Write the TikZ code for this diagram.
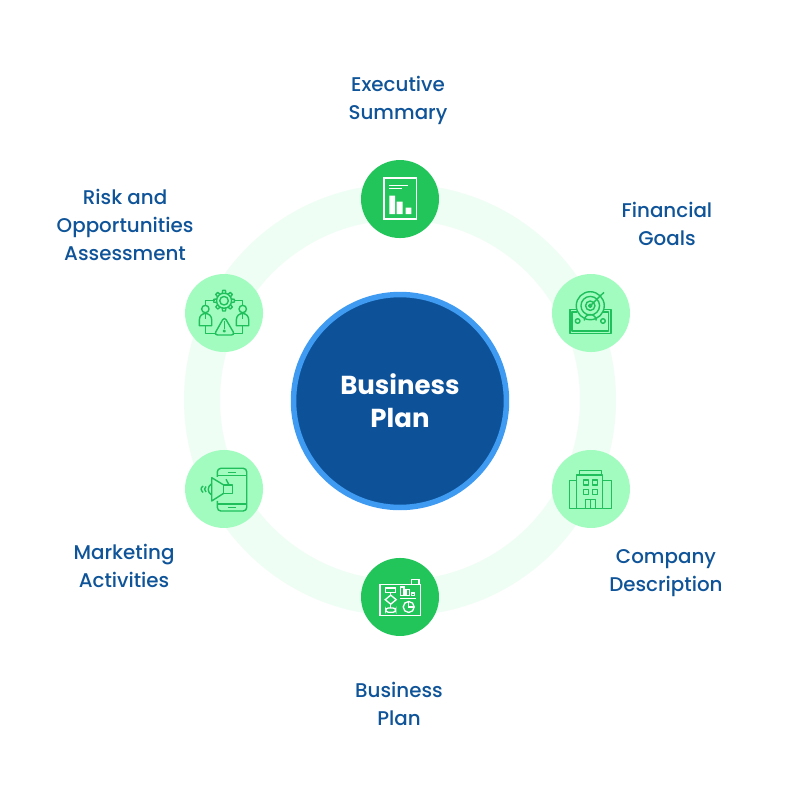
\documentclass[tikz,border=0pt]{standalone}
\usepackage{fontspec}
\setmainfont{Poppins}
\newfontfamily\labelfont{Poppins Medium}
\usetikzlibrary{positioning}
\definecolor{hubblue}{HTML}{0D5299}
\definecolor{hubedge}{HTML}{3F9BF2}
\definecolor{labelblue}{HTML}{0F5499}
\definecolor{darkgreen}{HTML}{21C55A}
\definecolor{softgreen}{HTML}{A2FCBF}
\definecolor{ringgreen}{HTML}{EFFEF4}
\definecolor{iconline}{HTML}{1FBF5C}

\begin{document}
\begin{tikzpicture}[
        x=0.02cm, y=-0.02cm,
        node distance=3.82cm,
        hubnode/.style={circle, draw=hubedge, line width=0.11cm, fill=hubblue, text=white, minimum size=4.26cm, align=center, inner sep=0pt, font=\fontsize{14.8}{18.7}\selectfont\bfseries},
        darknode/.style={circle, fill=darkgreen, minimum size=1.56cm, inner sep=0pt},
        softnode/.style={circle, fill=softgreen, minimum size=1.56cm, inner sep=0pt},
        caption/.style={align=center, text=labelblue, inner sep=0pt, font=\labelfont\fontsize{11.3}{15.9}\selectfont},
        whiteicon/.style={draw=white, line width=0.75pt},
        greenicon/.style={draw=iconline, line width=0.8pt, line join=round}
    ]

        \useasboundingbox (0,0) rectangle (801,801);
        \fill[white] (0,0) rectangle (801,801);
        \draw[ringgreen, line width=0.72cm] (400,400) circle (198);

        \node [hubnode] (Hub) at (400,401) {Business\\Plan};
        \node [darknode] (Summary) [above of= Hub, yshift=0.22cm] {};
        \node [softnode] (Goals) [right of= Hub, yshift=1.76cm] {};
        \node [softnode] (Company) [right of= Hub, yshift=-1.76cm] {};
        \node [darknode] (Plan) [below of= Hub, yshift=-0.1cm] {};
        \node [softnode] (Marketing) [left of= Hub, xshift=0.3cm, yshift=-1.76cm] {};
        \node [softnode] (Risk) [left of= Hub, xshift=0.3cm, yshift=1.76cm] {};

        \node [caption] (SummaryText) [above=0.7cm of Summary, xshift=-0.04cm] {Executive\\Summary};
        \node [caption] (GoalsText) [above=0.56cm of Goals, xshift=1.52cm] {Financial\\Goals};
        \node [caption] (CompanyText) [below=0.42cm of Company, xshift=1.5cm] {Company\\Description};
        \node [caption] (PlanText) [below=0.92cm of Plan, xshift=-0.02cm] {Business\\Plan};
        \node [caption] (MarketingText) [below=0.32cm of Marketing, xshift=-2cm] {Marketing\\Activities};
        \node [caption] (RiskText) [above=0.26cm of Risk, xshift=-1.98cm] {Risk and\\Opportunities\\Assessment};

        % report
        \begin{scope}[shift={(Summary)}]
            \draw[whiteicon, line width=0.9pt] (-16,-21) rectangle (16.7,20);
            \draw[whiteicon] (-11,-13.3) -- (8.3,-13.3) (-11,-10.3) -- (1.7,-10.3);
            \fill[white] (-10.7,-3.3) rectangle (-5,15) (-3.3,2.7) rectangle (2.7,15) (5.7,8.7) rectangle (11.3,15);
        \end{scope}

        % target on banknote
        \begin{scope}[shift={(Goals)}]
            \draw[greenicon] (-0.7,-7.3) circle (14) (-0.7,-7.3) circle (9.3) (-0.7,-7.3) circle (4.7) (-0.7,-7.3) circle (1.7);
            \draw[greenicon] (-0.7,-7.3) -- (13,-20.7);
            \draw[greenicon] (-14,-3.7) -- (-21,-3.7) -- (-21,20.3) -- (20,20.3) -- (20,-3.7) -- (13,-3.7);
            \draw[greenicon] (-13.5,-1) -- (-18.8,-1) -- (-18.8,18) -- (17.8,18) -- (17.8,-1) -- (12.5,-1);
            \draw[greenicon] (-13.3,8) circle (2.3) (12,8) circle (2.3);
            \draw[greenicon] (-6.7,7.5) arc (180:360:6);
        \end{scope}

        % office building
        \begin{scope}[shift={(Company)}]
            \draw[greenicon] (-14.3,-14) rectangle (11.7,19.3);
            \draw[greenicon] (-11.7,-14) -- (-11.7,-18.3) -- (10.7,-18.3) -- (10.7,-14);
            \draw[greenicon] (-14.3,-8.3) -- (-21.7,-8.3) -- (-21.7,19.3) -- (-14.3,19.3);
            \draw[greenicon] (11.7,-8.3) -- (20.7,-8.3) -- (20.7,19.3) -- (11.7,19.3);
            \foreach \wx in {-7.7,1.7}
                \foreach \wy in {-9,0.3}
                    \draw[greenicon] (\wx,\wy) rectangle ++(5,5);
            \draw[greenicon] (-5.3,19.3) -- (-5.3,10.3) -- (4.7,10.3) -- (4.7,19.3) (-0.3,10.3) -- (-0.3,19.3);
        \end{scope}

        % planning board
        \begin{scope}[shift={(Plan)}]
            \draw[whiteicon] (-20,-12.7) rectangle (20.7,18.3);
            \draw[whiteicon] (11.7,-12.7) -- (11.7,-17.7) -- (19,-17.7) -- (19,-12.7);
            \draw[whiteicon] (-14.3,-9) rectangle (-4.3,-4.7);
            \draw[whiteicon] (-9.3,-4.7) -- (-9.3,-1.8) (-9.3,7.2) -- (-9.3,11);
            \draw[whiteicon] (-14.8,2.7) -- (-9.3,-1.8) -- (-3.8,2.7) -- (-9.3,7.2) -- cycle;
            \draw[whiteicon, rounded corners=1.5] (-14.3,11) rectangle (-4.3,15.3);
            \draw[whiteicon] (0.7,-10) rectangle (4,-1.7) (6,-7.3) rectangle (9.3,-1.7) (11.3,-4) rectangle (14.7,-1.7);
            \draw[whiteicon] (0,1.3) -- (16,1.3);
            \draw[whiteicon] (8.7,10) circle (5.5);
            \draw[whiteicon] (8.7,4.5) -- (8.7,10) -- (14.2,10);
        \end{scope}

        % phone with loudspeaker
        \begin{scope}[shift={(Marketing)}]
            \draw[greenicon, rounded corners=2] (-6.7,-12) -- (-6.7,-20.7) -- (22.7,-20.7) -- (22.7,22) -- (-6.7,22) -- (-6.7,12);
            \draw[greenicon] (-6.7,-13.3) -- (22.7,-13.3) (-6.7,15) -- (22.7,15);
            \draw[greenicon] (4.3,-16.7) -- (11.7,-16.7) (4.3,18.3) -- (11.7,18.3);
            \draw[greenicon, fill=softgreen] (-12.3,-11.3) -- (-0.3,-4) -- (-0.3,4.3) -- (-12.3,12) -- cycle;
            \draw[greenicon, fill=softgreen] (-0.7,-4) rectangle (8.7,4.3);
            \draw[greenicon] (2,-9.7) -- (5,-4);
            \draw[greenicon] (-12.3,-5.5) .. controls (-17,-2) and (-17,3) .. (-12.3,6);
            \draw[greenicon] (-18,-2.5) .. controls (-20,-1) and (-20,1) .. (-18,3);
            \draw[greenicon] (-21,-3) .. controls (-23.5,-1) and (-23.5,1) .. (-21,3.5);
        \end{scope}

        % gear above two people and a warning sign
        \begin{scope}[shift={(Risk)}]
            \draw[greenicon] (0,-12.3) circle (7.5) (0,-12.3) circle (4.3);
            \foreach \tooth in {0,45,...,315}
                \draw[greenicon, shift={(0,-12.3)}, rotate=\tooth] (-1.8,-7.3) -- (-1.4,-10.3) -- (1.4,-10.3) -- (1.8,-7.3);
            \draw[greenicon] (-18.7,-7.7) -- (-18.7,-12.3) -- (-9.5,-12.3) (18.7,-7.7) -- (18.7,-12.3) -- (9.5,-12.3);
            \draw[greenicon] (-18.7,-4) circle (3.7) (18.7,-4) circle (3.7);
            \draw[greenicon] (-24.7,12.7) -- (-24.7,7) .. controls (-24.7,3) and (-22,0.5) .. (-18.7,0.5) .. controls (-15,0.5) and (-12.3,3) .. (-12.3,7) -- (-12.3,12.7) -- cycle;
            \draw[greenicon] (24.7,12.7) -- (24.7,7) .. controls (24.7,3) and (22,0.5) .. (18.7,0.5) .. controls (15,0.5) and (12.3,3) .. (12.3,7) -- (12.3,12.7) -- cycle;
            \draw[greenicon] (-18.7,0.5) -- (-18.7,6) (18.7,0.5) -- (18.7,6);
            \draw[greenicon] (-18.7,12.7) -- (-18.7,20.3) -- (-8.5,20.3) (18.7,12.7) -- (18.7,20.3) -- (9.5,20.3);
            \draw[greenicon, rounded corners=2] (0.3,3.7) -- (-10,22) -- (11,22) -- cycle;
            \draw[greenicon] (0.3,7.5) -- (0.3,15.5);
            \draw[greenicon] (0.3,18) circle (0.9);
        \end{scope}

\end{tikzpicture}
\end{document}
